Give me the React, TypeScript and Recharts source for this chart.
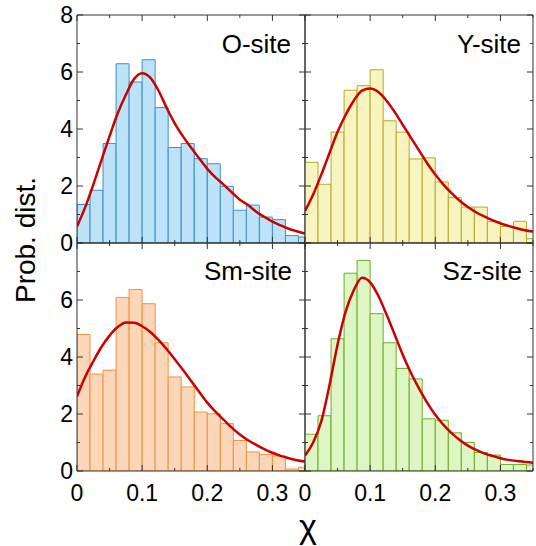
import React from 'react';
import { ComposedChart, Bar, Line, XAxis, YAxis } from 'recharts';

// histogram bins (0.02 wide), centres
const binCenters = [0.01, 0.03, 0.05, 0.07, 0.09, 0.11, 0.13, 0.15, 0.17, 0.19, 0.21, 0.23, 0.25, 0.27, 0.29, 0.31, 0.33, 0.35];

const oSite = [1.35, 1.85, 3.49, 6.29, 5.65, 6.43, 4.75, 3.35, 3.49, 2.96, 2.78, 1.99, 1.15, 1.33, 0.91, 0.82, 0.26, 0.21];
const ySite = [2.83, 2.06, 3.89, 5.36, 5.52, 6.08, 4.29, 3.89, 2.95, 2.99, 2.14, 1.59, 1.26, 1.26, 0.75, 0.58, 0.76, 0.15];
const smSite = [4.79, 3.4, 3.54, 6.09, 6.37, 5.87, 4.5, 3.3, 2.95, 2.07, 2.01, 1.67, 1.07, 0.67, 0.58, 0.53, 0.07, 0.13];
const szSite = [1.29, 1.94, 4.64, 6.94, 7.39, 5.52, 4.5, 3.6, 3.23, 1.83, 1.78, 1.34, 1.0, 0.65, 0.56, 0.23, 0.23, 0.21];

// fitted curves
const fitX = [0, 0.0125, 0.025, 0.0375, 0.05, 0.0625, 0.075, 0.0875, 0.1, 0.1125, 0.125, 0.1375, 0.15, 0.1625, 0.175, 0.1875, 0.2, 0.2125, 0.225, 0.2375, 0.25, 0.2625, 0.275, 0.2875, 0.3, 0.3125, 0.325, 0.3375, 0.35];
const oFit = [0.58, 1.25, 2.05, 2.9, 3.75, 4.55, 5.2, 5.75, 5.96, 5.8, 5.35, 4.75, 4.2, 3.75, 3.35, 2.97, 2.6, 2.3, 2.05, 1.78, 1.52, 1.33, 1.1, 0.92, 0.75, 0.62, 0.5, 0.41, 0.33];
const yFit = [1.12, 1.7, 2.4, 3.15, 3.9, 4.5, 5.0, 5.35, 5.42, 5.3, 5.0, 4.6, 4.15, 3.7, 3.25, 2.8, 2.4, 2.05, 1.75, 1.48, 1.26, 1.08, 0.93, 0.8, 0.69, 0.6, 0.52, 0.45, 0.4];
const smFit = [2.62, 3.3, 3.85, 4.35, 4.75, 5.05, 5.21, 5.2, 5.08, 4.88, 4.6, 4.28, 3.92, 3.55, 3.17, 2.78, 2.4, 2.08, 1.8, 1.52, 1.28, 1.08, 0.92, 0.77, 0.64, 0.53, 0.45, 0.38, 0.33];
const szFit = [0.54, 1.0, 1.74, 3.0, 4.44, 5.6, 6.35, 6.78, 6.62, 6.15, 5.5, 4.8, 4.08, 3.45, 2.9, 2.4, 1.97, 1.62, 1.33, 1.09, 0.89, 0.74, 0.62, 0.53, 0.45, 0.39, 0.35, 0.32, 0.29];

const xTicks = [0, 0.05, 0.1, 0.15, 0.2, 0.25, 0.3, 0.35];
const yTicks = [0, 1, 2, 3, 4, 5, 6, 7, 8];

const W = 536;
const H = 546;
const P = 228; // plot size of one panel
const FONT = '"Liberation Sans", Arial, sans-serif';
const AXIS = '#333';

const isMajorX = (v: number) => Math.abs(v * 10 - Math.round(v * 10)) < 1e-6;
const fmtX = (v: number) => (v === 0 ? '0' : v.toFixed(1));

function BottomTick({ x, y, payload, labeled }: any) {
  const v = payload.value;
  const major = isMajorX(v);
  return (
    <g>
      <line x1={x} x2={x} y1={y} y2={y - (major ? 6 : 3)} stroke={AXIS} />
      {labeled && major && v < 0.34 && (
        <text x={x} y={y + 30} textAnchor="middle" fontSize={23} fontFamily={FONT} fill="#000">
          {fmtX(v)}
        </text>
      )}
    </g>
  );
}

function TopTick({ x, y, payload }: any) {
  const major = isMajorX(payload.value);
  return <line x1={x} x2={x} y1={y} y2={y + (major ? 6 : 3)} stroke={AXIS} />;
}

function LeftTick({ x, y, payload, labels }: any) {
  const v = payload.value;
  const major = v % 2 === 0;
  return (
    <g>
      <line x1={x} x2={x + (major ? 6 : 3)} y1={y} y2={y} stroke={AXIS} />
      {labels.includes(v) && (
        <text x={x - 4} y={y + 8} textAnchor="end" fontSize={23} fontFamily={FONT} fill="#000">
          {v}
        </text>
      )}
    </g>
  );
}

function RightTick({ x, y, payload }: any) {
  const major = payload.value % 2 === 0;
  return <line x1={x} x2={x - (major ? 6 : 3)} y1={y} y2={y} stroke={AXIS} />;
}

interface PanelProps {
  bars: number[];
  fit: number[];
  fill: string;
  stroke: string;
  left: number;
  top: number;
  showX: boolean;
  yLabels: number[];
}

function Panel({ bars, fit, fill, stroke, left, top, showX, yLabels }: PanelProps) {
  const barData = binCenters.map((x, i) => ({ x, v: bars[i] }));
  const fitData = fitX.map((x, i) => ({ x, y: fit[i] }));
  // axes are 1px thick, so margins are one pixel smaller than the plot offset
  return (
    <div style={{ position: 'absolute', left: 0, top: 0 }}>
      <ComposedChart
        width={W}
        height={H}
        data={barData}
        margin={{ top: top - 1, left: left - 1, right: W - left - P - 1, bottom: H - top - P - 1 }}
        barCategoryGap={0}
        barGap={0}
      >
        <XAxis
          xAxisId="b"
          dataKey="x"
          type="number"
          domain={[0, 0.35]}
          allowDataOverflow
          ticks={xTicks}
          interval={0}
          height={1}
          tickSize={0}
          tickMargin={0}
          tickLine={false}
          axisLine={{ stroke: AXIS }}
          tick={(p: any) => <BottomTick {...p} labeled={showX} />}
        />
        <XAxis
          xAxisId="t"
          orientation="top"
          dataKey="x"
          type="number"
          domain={[0, 0.35]}
          allowDataOverflow
          ticks={xTicks}
          interval={0}
          height={1}
          tickSize={0}
          tickMargin={0}
          tickLine={false}
          axisLine={{ stroke: AXIS }}
          tick={(p: any) => <TopTick {...p} />}
        />
        <YAxis
          yAxisId="l"
          type="number"
          domain={[0, 8]}
          allowDataOverflow
          ticks={yTicks}
          interval={0}
          width={1}
          tickSize={0}
          tickMargin={0}
          tickLine={false}
          axisLine={{ stroke: AXIS }}
          tick={(p: any) => <LeftTick {...p} labels={yLabels} />}
        />
        <YAxis
          yAxisId="r"
          orientation="right"
          type="number"
          domain={[0, 8]}
          allowDataOverflow
          ticks={yTicks}
          interval={0}
          width={1}
          tickSize={0}
          tickMargin={0}
          tickLine={false}
          axisLine={{ stroke: AXIS }}
          tick={(p: any) => <RightTick {...p} />}
        />
        <Bar xAxisId="b" yAxisId="l" dataKey="v" fill={fill} stroke={stroke} strokeWidth={1} isAnimationActive={false} />
        <Line
          xAxisId="t"
          yAxisId="r"
          data={fitData}
          dataKey="y"
          type="monotone"
          stroke="#cc0000"
          strokeWidth={2.5}
          dot={false}
          isAnimationActive={false}
        />
      </ComposedChart>
    </div>
  );
}

export default function App() {
  return (
    <div style={{ position: 'absolute', left: 0, top: 0, width: W, height: H, background: '#fff' }}>
      <Panel bars={oSite} fit={oFit} fill="#bde3fa" stroke="#3b8fcb" left={77} top={15} showX={false} yLabels={[0, 2, 4, 6, 8]} />
      <Panel bars={ySite} fit={yFit} fill="#f7f4c0" stroke="#b8aa24" left={305} top={15} showX={false} yLabels={[]} />
      <Panel bars={smSite} fit={smFit} fill="#fbd6b9" stroke="#f5913e" left={77} top={243} showX={true} yLabels={[0, 2, 4, 6]} />
      <Panel bars={szSite} fit={szFit} fill="#def6c4" stroke="#6cae26" left={305} top={243} showX={true} yLabels={[]} />
      <svg width={W} height={H} style={{ position: 'absolute', left: 0, top: 0, pointerEvents: 'none' }} fontFamily={FONT}>
        <text x={291} y={53} textAnchor="end" fontSize={26}>O-site</text>
        <text x={521} y={53} textAnchor="end" fontSize={26}>Y-site</text>
        <text x={292} y={280} textAnchor="end" fontSize={26}>Sm-site</text>
        <text x={522} y={280} textAnchor="end" fontSize={26}>Sz-site</text>
        <text x={35} y={240} textAnchor="middle" fontSize={28} transform="rotate(-90 35 240)">Prob. dist.</text>
        <text x={308} y={538} textAnchor="middle" fontSize={34}>χ</text>
      </svg>
    </div>
  );
}
